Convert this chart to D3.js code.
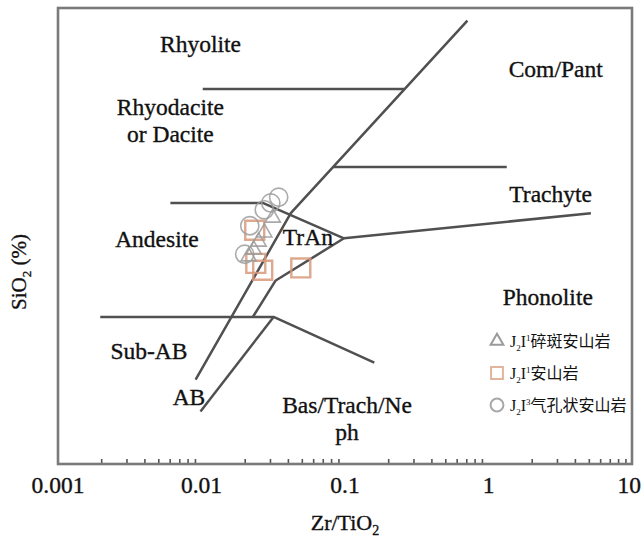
<!DOCTYPE html>
<html>
<head>
<meta charset="utf-8">
<script src="https://cdn.jsdelivr.net/npm/d3@7"></script>
<style>
  html, body { margin: 0; padding: 0; background: #fff; }
  svg text { font-family: "Liberation Serif", "Times New Roman", serif; fill: #111; }
  .heavy { stroke: #111; stroke-width: 0.35px; }
  .cjk { font-family: "Liberation Serif", "Noto Sans CJK SC", serif; }
</style>
</head>
<body>
<div id="chart"></div>
<script>
// Zr/TiO2 vs SiO2 classification diagram (Winchester & Floyd style)

// x axis (log) tick labels
const xTicks = [0.001, 0.01, 0.1, 1, 10];
const xTickLabels = ['0.001', '0.01', '0.1', '1', '10'];

// field boundary lines: [Zr/TiO2, SiO2 %]
const comPantLine = [[0.713, 78.9], [0.0419, 62.0], [0.0091, 47.4]];
const rhyoliteLine = [[0.0102, 72.9], [0.259, 72.9]];
const trachyteTopLine = [[0.0824, 66.05], [1.34, 66.05]];
const andesiteTopLine = [[0.00607, 62.9], [0.0267, 62.9], [0.0984, 59.8]];
const phonoliteLine = [[0.0984, 59.8], [5.17, 62.0]];
const tranLowerLine = [[0.0984, 59.8], [0.0329, 56.1], [0.0228, 52.9]];
const subAbLine = [[0.00197, 52.9], [0.0318, 52.9], [0.160, 48.9]];
const abLine = [[0.0318, 52.9], [0.00984, 44.6]];

// field names (lines of text) with anchor in data units (first baseline)
const fieldLabels = [
  [['Rhyolite'], 0.00984, 76.14],
  [['Rhyodacite', 'or Dacite'], 0.00607, 70.61],
  [['Com/Pant'], 2.94, 73.95],
  [['Trachyte'], 2.71, 62.98],
  [['Andesite'], 0.00489, 59.04],
  [['TrAn'], 0.0551, 59.21],
  [['Phonolite'], 2.59, 53.95],
  [['Sub-AB'], 0.0043, 49.21],
  [['AB'], 0.00818, 45.18],
  [['Bas/Trach/Ne', 'ph'], 0.1033, 44.47],
];

// samples [Zr/TiO2, SiO2 %]
const brecciaAndesite = [[0.0314, 61.6], [0.0274, 60.3], [0.0250, 59.5], [0.0231, 58.8], [0.0213, 58.2]];
const andesite = [[0.0235, 60.5], [0.0239, 57.6], [0.0267, 57.0], [0.0492, 57.2]];
const vesicularAndesite = [[0.0345, 63.4], [0.0304, 62.9], [0.0274, 62.3], [0.0217, 60.9], [0.0200, 58.4]];

const W = 642, H = 542;
const margin = { top: 8, right: 10, bottom: 78, left: 58 };

const svg = d3.select('#chart').append('svg')
  .attr('width', W).attr('height', H);

const x = d3.scaleLog().domain([0.001, 10]).range([margin.left, W - margin.right]);
const y = d3.scaleLinear().domain([40, 80]).range([H - margin.bottom, margin.top]);

const line = d3.line().x((d) => x(d[0])).y((d) => y(d[1]));

// boundary lines
const lines = [comPantLine, rhyoliteLine, trachyteTopLine, andesiteTopLine,
  phonoliteLine, tranLowerLine, subAbLine, abLine];
svg.append('g')
  .selectAll('path')
  .data(lines)
  .enter()
  .append('path')
  .attr('d', line)
  .attr('fill', 'none')
  .attr('stroke', '#505050')
  .attr('stroke-width', 2.5)
  .attr('stroke-linejoin', 'round');

// minor ticks (inside, bottom)
const minor = x.ticks().filter((v) => !xTicks.some((t) => Math.abs(t - v) / t < 1e-6));
const axisG = svg.append('g')
  .attr('transform', `translate(0,${y.range()[0]})`)
  .call(d3.axisBottom(x).tickValues(minor).tickSize(-5).tickFormat(''));
axisG.select('.domain').remove();
axisG.selectAll('line').attr('stroke', '#555').attr('stroke-width', 1.6);

// tick labels (last one kept inside the page edge)
svg.append('g')
  .selectAll('text')
  .data(xTicks)
  .enter()
  .append('text')
  .attr('class', 'heavy')
  .attr('x', (d, i) => (i === xTicks.length - 1 ? W - 1 : x(d)))
  .attr('y', 493)
  .attr('text-anchor', (d, i) => (i === xTicks.length - 1 ? 'end' : 'middle'))
  .style('font-size', '23.5px')
  .text((d, i) => xTickLabels[i]);

// frame
svg.append('rect')
  .attr('x', margin.left)
  .attr('y', margin.top)
  .attr('width', W - margin.left - margin.right)
  .attr('height', H - margin.top - margin.bottom)
  .attr('fill', 'none')
  .attr('stroke', '#7a7a7a')
  .attr('stroke-width', 2.6);

// field labels
svg.append('g')
  .selectAll('text')
  .data(fieldLabels)
  .enter()
  .append('text')
  .attr('class', 'heavy')
  .attr('y', (d) => y(d[2]))
  .attr('text-anchor', 'middle')
  .style('font-size', '23.5px')
  .each(function(d) {
    const t = d3.select(this);
    d[0].forEach((s, i) => {
      t.append('tspan')
        .attr('x', x(d[1]))
        .attr('dy', i === 0 ? 0 : 26.5)
        .text(s);
    });
  });

// sample markers
const markerGroups = [
  { data: andesite, type: d3.symbolSquare, size: 360, stroke: '#d8997a', width: 2.4 },
  { data: vesicularAndesite, type: d3.symbolCircle, size: 260, stroke: '#9c9c9c', width: 1.6 },
  { data: brecciaAndesite, type: d3.symbolTriangle, size: 100, stroke: '#9a9a9a', width: 1.6 },
];
markerGroups.forEach((m) => {
  svg.append('g')
    .selectAll('path')
    .data(m.data)
    .enter()
    .append('path')
    .attr('transform', (d) => `translate(${x(d[0])},${y(d[1])})`)
    .attr('d', d3.symbol().type(m.type).size(m.size))
    .attr('fill', 'none')
    .attr('stroke', m.stroke)
    .attr('stroke-width', m.width)
    .attr('opacity', 0.85);
});

// legend
const legendItems = [
  { type: d3.symbolTriangle, size: 70, stroke: '#9a9a9a', sup: '1', name: '碎斑安山岩' },
  { type: d3.symbolSquare, size: 140, stroke: '#e2b49c', sup: '1', name: '安山岩' },
  { type: d3.symbolCircle, size: 130, stroke: '#a8a8a8', sup: '3', name: '气孔状安山岩' },
];
const legend = svg.append('g').attr('transform', 'translate(497,341)');
legendItems.forEach((it, i) => {
  const gy = i * 32;
  legend.append('path')
    .attr('transform', `translate(0,${gy})`)
    .attr('d', d3.symbol().type(it.type).size(it.size))
    .attr('fill', 'none')
    .attr('stroke', it.stroke)
    .attr('stroke-width', 2);
  const t = legend.append('text')
    .attr('x', 13)
    .attr('y', gy + 6)
    .attr('class', 'cjk')
    .style('font-size', '16px');
  t.append('tspan').text('J');
  t.append('tspan').attr('dy', 4).style('font-size', '9px').text('2');
  t.append('tspan').attr('dy', -4).text('I');
  t.append('tspan').attr('dy', -6).style('font-size', '9px').text(it.sup);
  t.append('tspan').attr('dy', 6).style('font-family', '"Noto Sans CJK SC", sans-serif').text(it.name);
});

// axis titles
const xt = svg.append('text')
  .attr('class', 'heavy')
  .attr('x', (margin.left + W - margin.right) / 2)
  .attr('y', 530)
  .attr('text-anchor', 'middle')
  .style('font-size', '22px');
xt.append('tspan').text('Zr/TiO');
xt.append('tspan').attr('dy', 5).style('font-size', '14px').text('2');

const yt = svg.append('text')
  .attr('class', 'heavy')
  .attr('transform', `translate(26,${(margin.top + H - margin.bottom) / 2 + 36}) rotate(-90)`)
  .attr('text-anchor', 'middle')
  .style('font-size', '21px');
yt.append('tspan').text('SiO');
yt.append('tspan').attr('dy', 5).style('font-size', '13px').text('2');
yt.append('tspan').attr('dy', -5).text(' (%)');
</script>
</body>
</html>
